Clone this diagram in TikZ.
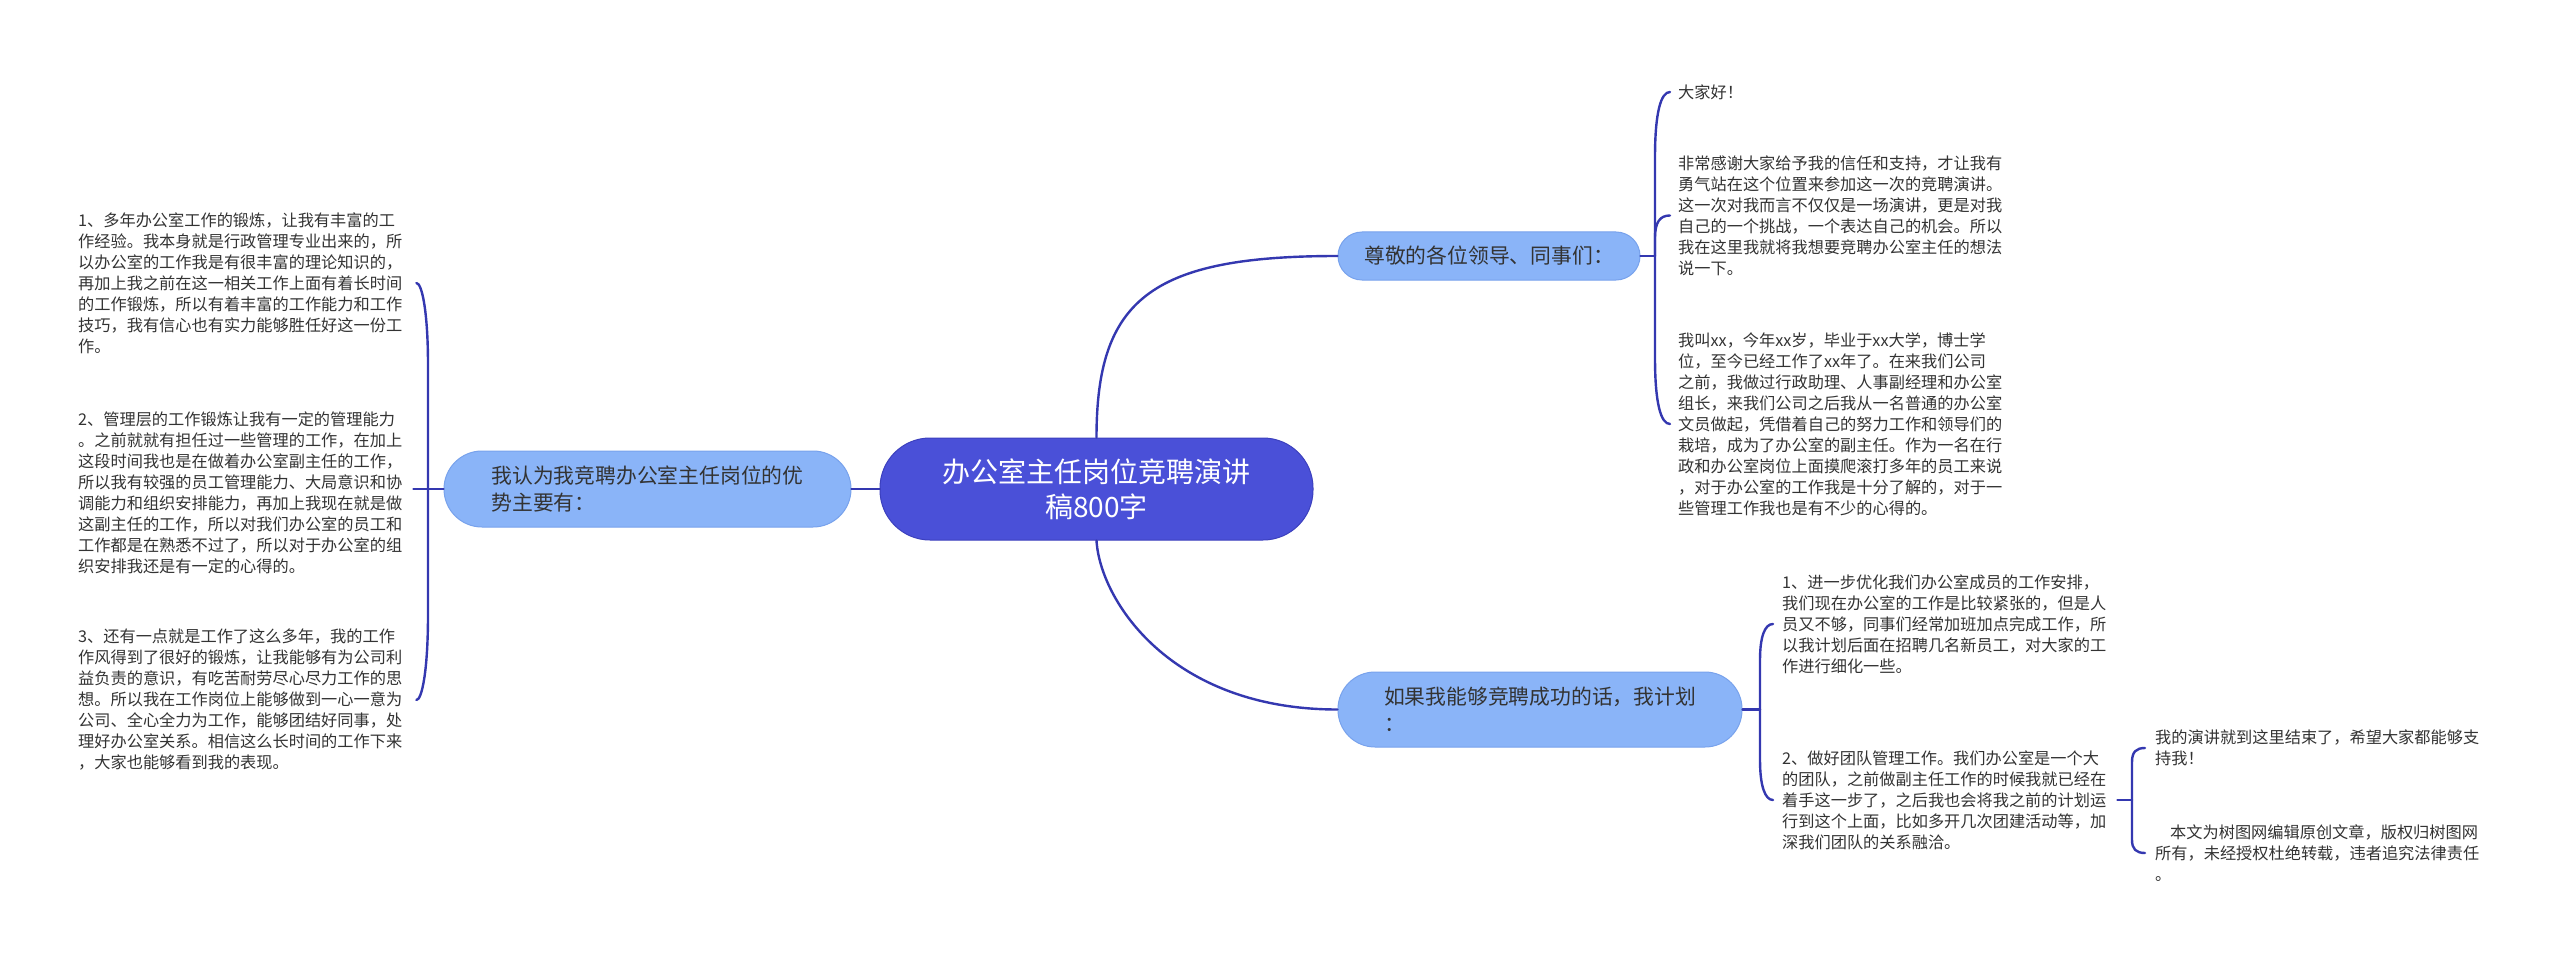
\documentclass[tikz,border=0pt]{standalone}
\usepackage{fontspec}
\setmainfont{Noto Sans CJK SC}
\usetikzlibrary{calc}
\definecolor{cmain}{RGB}{74,80,216}
\definecolor{cmainb}{RGB}{60,64,190}
\definecolor{csub}{RGB}{138,180,248}
\definecolor{csubb}{RGB}{120,162,236}
\definecolor{clink}{RGB}{52,56,176}
\definecolor{ctext}{RGB}{51,51,51}
\begin{document}
\begin{tikzpicture}[x=1pt,y=1pt,
  link/.style={draw=clink, line width=2.4pt, line cap=round, line join=round},
  root/.style={fill=cmain, draw=cmainb, line width=1pt, text=white, rounded corners=50pt,
    minimum width=433pt, minimum height=102pt, inner sep=0pt, align=center,
    font=\fontsize{28}{35}\selectfont},
  sub/.style={fill=csub, draw=csubb, line width=1pt, text=ctext, inner sep=0pt, align=left,
    font=\fontsize{20.8}{27}\selectfont},
  leaf/.style={text=ctext, inner sep=0pt, align=left, anchor=west,
    font=\fontsize{16.2}{21}\selectfont},
]
\useasboundingbox (0,0) rectangle (2560,-960);
\fill[white] (0,0) rectangle (2560,-960);

% main nodes
\node[root] (c) at (1096.5,-489) {办公室主任岗位竞聘演讲\\稿800字};
\node[sub, minimum width=302pt, minimum height=48pt, rounded corners=24pt] (n1) at (1489,-256) {尊敬的各位领导、同事们：};
\node[sub, minimum width=404pt, minimum height=75pt, rounded corners=37pt] (n2) at (1540,-709.5) {如果我能够竞聘成功的话，我计划\\：};
\node[sub, minimum width=407pt, minimum height=76pt, rounded corners=38pt] (n3) at (647.5,-489) {我认为我竞聘办公室主任岗位的优\\势主要有：};

% left leaves
\node[leaf, text width=330pt] (L1) at (78,-283) {1、多年办公室工作的锻炼，让我有丰富的工\\作经验。我本身就是行政管理专业出来的，所\\以办公室的工作我是有很丰富的理论知识的，\\再加上我之前在这一相关工作上面有着长时间\\的工作锻炼，所以有着丰富的工作能力和工作\\技巧，我有信心也有实力能够胜任好这一份工\\作。};
\node[leaf, text width=330pt] (L2) at (78,-493) {2、管理层的工作锻炼让我有一定的管理能力\\。之前就就有担任过一些管理的工作，在加上\\这段时间我也是在做着办公室副主任的工作，\\所以我有较强的员工管理能力、大局意识和协\\调能力和组织安排能力，再加上我现在就是做\\这副主任的工作，所以对我们办公室的员工和\\工作都是在熟悉不过了，所以对于办公室的组\\织安排我还是有一定的心得的。};
\node[leaf, text width=330pt] (L3) at (78,-700) {3、还有一点就是工作了这么多年，我的工作\\作风得到了很好的锻炼，让我能够有为公司利\\益负责的意识，有吃苦耐劳尽心尽力工作的思\\想。所以我在工作岗位上能够做到一心一意为\\公司、全心全力为工作，能够团结好同事，处\\理好办公室关系。相信这么长时间的工作下来\\，大家也能够看到我的表现。};

% right leaves
\node[leaf] (R1) at (1678,-92) {大家好！};
\node[leaf, text width=330pt] (R2) at (1678,-215.5) {非常感谢大家给予我的信任和支持，才让我有\\勇气站在这个位置来参加这一次的竞聘演讲。\\这一次对我而言不仅仅是一场演讲，更是对我\\自己的一个挑战，一个表达自己的机会。所以\\我在这里我就将我想要竞聘办公室主任的想法\\说一下。};
\node[leaf, text width=330pt] (R3) at (1678,-424) {我叫xx，今年xx岁，毕业于xx大学，博士学\\位，至今已经工作了xx年了。在来我们公司\\之前，我做过行政助理、人事副经理和办公室\\组长，来我们公司之后我从一名普通的办公室\\文员做起，凭借着自己的努力工作和领导们的\\栽培，成为了办公室的副主任。作为一名在行\\政和办公室岗位上面摸爬滚打多年的员工来说\\，对于办公室的工作我是十分了解的，对于一\\些管理工作我也是有不少的心得的。};
\node[leaf, text width=326pt] (R4) at (1782,-624) {1、进一步优化我们办公室成员的工作安排，\\我们现在办公室的工作是比较紧张的，但是人\\员又不够，同事们经常加班加点完成工作，所\\以我计划后面在招聘几名新员工，对大家的工\\作进行细化一些。};
\node[leaf, text width=326pt] (R5) at (1782,-800) {2、做好团队管理工作。我们办公室是一个大\\的团队，之前做副主任工作的时候我就已经在\\着手这一步了，之后我也会将我之前的计划运\\行到这个上面，比如多开几次团建活动等，加\\深我们团队的关系融洽。};
\node[leaf, text width=330pt] (R6) at (2155,-748) {我的演讲就到这里结束了，希望大家都能够支\\持我！};
\node[leaf, text width=330pt] (R7) at (2155,-853) {\hspace*{15pt}本文为树图网编辑原创文章，版权归树图网\\所有，未经授权杜绝转载，违者追究法律责任\\。};

% central connectors
\draw[link] (c.west) -- (n3.east);
\draw[link] (c.north) .. controls (1096.5,-300) and (1150,-256) .. (n1.west);
\draw[link] (c.south) .. controls (1100,-600) and (1170,-709.5) .. (n2.west);

% left bracket
\coordinate (b3) at (428,-489);
\draw[link] (n3.west) -- (b3);
\draw[link] (b3) -- (428,-365) .. controls (428,-312) and (422,-283) .. ([xshift=8pt]L1.east);
\draw[link] (b3) -- ([xshift=5pt]L2.east |- b3);
\draw[link] (b3) -- (428,-615) .. controls (428,-670) and (422,-700) .. ([xshift=8pt]L3.east);

% top right bracket
\coordinate (b1) at (1655,-256);
\draw[link] (n1.east) -- (b1);
\draw[link] (b1) -- (1655,-157) .. controls (1655,-112) and (1661,-92) .. ([xshift=-8pt]R1.west);
\draw[link] (b1) -- (1655,-238) .. controls (1655,-222) and (1660,-215.5) .. ([xshift=-8pt]R2.west);
\draw[link] (b1) -- (1655,-358) .. controls (1655,-404) and (1661,-424) .. ([xshift=-8pt]R3.west);

% bottom right bracket
\coordinate (b2) at (1760,-709.5);
\draw[link] (n2.east) -- (b2);
\draw[link] (b2) -- (1760,-660) .. controls (1760,-636) and (1765,-624) .. ([xshift=-9pt]R4.west);
\draw[link] (b2) -- (1760,-760) .. controls (1760,-786) and (1765,-800) .. ([xshift=-9pt]R5.west);

% R5 bracket
\coordinate (b5) at (2132,-800);
\draw[link] ([xshift=9pt]R5.east) -- (b5);
\draw[link] (b5) -- (2132,-762) .. controls (2132,-752) and (2136,-748) .. ([xshift=-10pt]R6.west);
\draw[link] (b5) -- (2132,-840) .. controls (2132,-849) and (2136,-853) .. ([xshift=-10pt]R7.west);
\end{tikzpicture}
\end{document}
